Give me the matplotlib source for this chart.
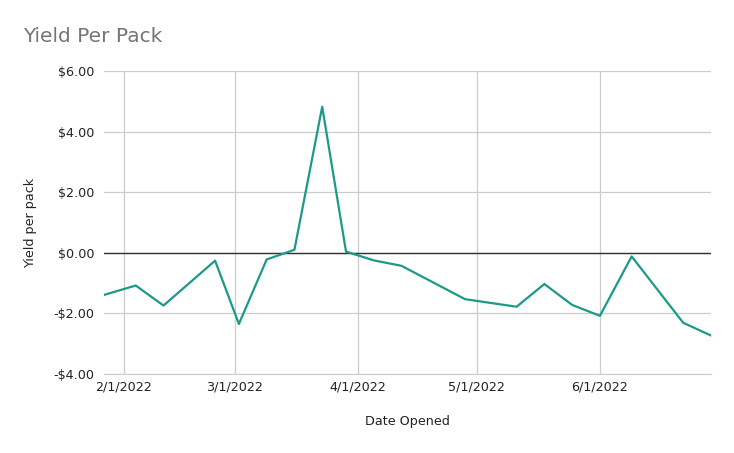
import matplotlib
matplotlib.use("Agg")
import matplotlib.pyplot as plt
import matplotlib.dates as mdates
import matplotlib.ticker as mticker
import pandas as pd

dates = ["2022-01-27", "2022-02-04", "2022-02-11", "2022-02-24", "2022-03-02",
         "2022-03-09", "2022-03-16", "2022-03-23", "2022-03-29", "2022-04-05",
         "2022-04-12", "2022-04-28", "2022-05-11", "2022-05-18", "2022-05-25",
         "2022-06-01", "2022-06-09", "2022-06-22", "2022-06-29"]
yields = [-1.39, -1.08, -1.74, -0.26, -2.35,
          -0.22, 0.10, 4.82, 0.04, -0.25,
          -0.43, -1.53, -1.78, -1.03, -1.72,
          -2.08, -0.12, -2.31, -2.73]
month_ticks = ["2022-02-01", "2022-03-01", "2022-04-01", "2022-05-01", "2022-06-01"]
tick_labels = ["2/1/2022", "3/1/2022", "4/1/2022", "5/1/2022", "6/1/2022"]
y_ticks = [-4, -2, 0, 2, 4, 6]

x = pd.to_datetime(dates)
xt = pd.to_datetime(month_ticks)

fig = plt.figure(figsize=(7.34, 4.53), dpi=100)
ax = fig.add_axes([104/734, 1-374/453, (711-104)/734, (374-71)/453])

ax.plot(x, yields, color="#1b9a87", linewidth=1.6, zorder=3)

ax.set_ylim(-4, 6)
ax.set_yticks(y_ticks)
ax.yaxis.set_major_formatter(mticker.FuncFormatter(
    lambda v, p: ("-$%.2f" % abs(v)) if v < 0 else ("$%.2f" % v)))
ax.set_xlim(pd.Timestamp("2022-01-27"), pd.Timestamp("2022-06-29"))
ax.set_xticks(xt)
ax.set_xticklabels(tick_labels)

ax.grid(True, color="#cccccc", linewidth=0.9, zorder=0)
ax.axhline(0, color="#333333", linewidth=1.0, zorder=2)
for s in ["top", "right", "left"]:
    ax.spines[s].set_visible(False)
ax.spines["bottom"].set_color("#cccccc")
ax.tick_params(axis="both", length=0, labelsize=9.2, colors="#222222")
ax.tick_params(axis="x", pad=5)
ax.tick_params(axis="y", pad=7)

ax.set_xlabel("Date Opened", fontsize=9.2, color="#222222", labelpad=15)
ax.set_ylabel("Yield per pack", fontsize=9.2, color="#222222", labelpad=12)

fig.text(23/734, 1-37/453, "Yield Per Pack", fontsize=14.5, color="#757575",
         ha="left", va="center")

fig.savefig("out.png", dpi=100)
